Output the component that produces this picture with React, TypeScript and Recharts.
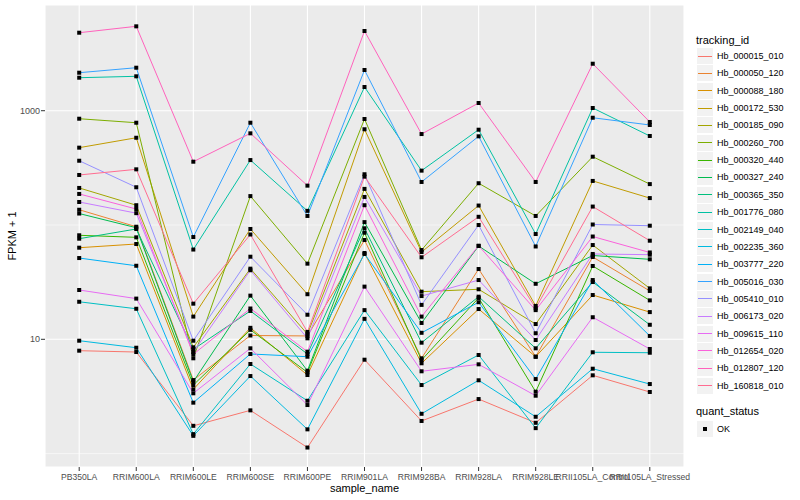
import React from "react";
import { ComposedChart, Line, XAxis, YAxis, CartesianGrid, ReferenceLine } from "recharts";

const samples = [
  "PB350LA",
  "RRIM600LA",
  "RRIM600LE",
  "RRIM600SE",
  "RRIM600PE",
  "RRIM901LA",
  "RRIM928BA",
  "RRIM928LA",
  "RRIM928LE",
  "RRII105LA_Control",
  "RRII105LA_Stressed",
];

// FPKM + 1, one value per sample
const hb_000015_010 = [7.95, 7.74, 1.75, 2.39, 1.13, 6.63, 1.93, 3.0, 1.86, 4.84, 3.46];
const hb_000050_120 = [136, 96.6, 4.4, 10.8, 10.7, 73.9, 6.82, 41.2, 7.04, 52.5, 26.5];
const hb_000088_180 = [63.3, 68.2, 3.65, 12.6, 4.87, 56.9, 6.17, 18.4, 7.04, 24.4, 17.3];
const hb_000172_530 = [475, 580, 15.8, 92.3, 24.8, 688, 58, 148, 19.6, 243, 172];
const hb_000185_090 = [211, 149, 8.51, 41.5, 11.1, 207, 26.1, 27.4, 13.6, 66.8, 27.9];
const hb_000260_700 = [851, 785, 6.82, 179, 45.9, 846, 60.4, 232, 120, 396, 228];
const hb_000320_440 = [81.3, 78, 3.98, 12.1, 5.14, 85.6, 6.59, 23, 3.48, 43.8, 21.9];
const hb_000327_240 = [126, 94.7, 4.26, 24.1, 5.31, 106, 13.9, 65.5, 30.6, 54.1, 50.1];
const hb_000365_350 = [75.9, 92.3, 8.17, 17.7, 7.44, 93.6, 9.34, 23.6, 8.34, 31.7, 13.4];
const hb_001776_080 = [1944, 2000, 61, 370, 133, 1612, 299, 682, 83.4, 1056, 601];
const hb_002149_040 = [21.3, 18.5, 1.48, 6.08, 2.9, 18, 3.98, 7.29, 1.67, 7.7, 7.63];
const hb_002235_360 = [9.72, 8.44, 1.43, 4.77, 1.63, 15.1, 2.23, 4.38, 2.1, 5.53, 4.06];
const hb_003777_220 = [51.4, 44, 2.79, 7.44, 7.04, 55.8, 11.4, 21.1, 4.49, 33, 10.7];
const hb_005016_030 = [2150, 2378, 78.5, 785, 120, 2271, 238, 597, 64.9, 868, 750];
const hb_005410_010 = [365, 214, 9.72, 52.8, 16.4, 278, 20, 100, 11.3, 101, 98.6];
const hb_006173_020 = [159, 127, 7.74, 40.2, 10.2, 176, 23.9, 33, 9.86, 55.8, 55];
const hb_009615_110 = [27, 22.7, 3.37, 8.34, 2.66, 28.9, 5.25, 6.04, 3.21, 15.6, 8.23];
const hb_012654_020 = [187, 138, 7.39, 18.6, 7.79, 149, 15.8, 65.9, 18, 79.3, 57.5];
const hb_012807_120 = [4813, 5474, 358, 634, 221, 4981, 625, 1168, 238, 2577, 797];
const hb_160818_010 = [274, 307, 20.5, 82.6, 11.6, 265, 52.2, 118, 18.7, 145, 72.9];

const trackingIds = [
  "Hb_000015_010",
  "Hb_000050_120",
  "Hb_000088_180",
  "Hb_000172_530",
  "Hb_000185_090",
  "Hb_000260_700",
  "Hb_000320_440",
  "Hb_000327_240",
  "Hb_000365_350",
  "Hb_001776_080",
  "Hb_002149_040",
  "Hb_002235_360",
  "Hb_003777_220",
  "Hb_005016_030",
  "Hb_005410_010",
  "Hb_006173_020",
  "Hb_009615_110",
  "Hb_012654_020",
  "Hb_012807_120",
  "Hb_160818_010",
];

const seriesValues = [
  hb_000015_010, hb_000050_120, hb_000088_180, hb_000172_530, hb_000185_090,
  hb_000260_700, hb_000320_440, hb_000327_240, hb_000365_350, hb_001776_080,
  hb_002149_040, hb_002235_360, hb_003777_220, hb_005016_030, hb_005410_010,
  hb_006173_020, hb_009615_110, hb_012654_020, hb_012807_120, hb_160818_010,
];

const palette = [
  "#F8766D", "#EA8331", "#D89000", "#C09B00", "#A3A500",
  "#7CAE00", "#39B600", "#00BB4E", "#00BF7D", "#00C1A3",
  "#00BFC4", "#00BAE0", "#00B0F6", "#35A2FF", "#9590FF",
  "#C77CFF", "#E76BF3", "#FA62DB", "#FF62BC", "#FF6C91",
];

const yTicks = [10, 1000];
const yMinor = [1, 100];

const rows = samples.map((s, i) => {
  const r: Record<string, string | number> = { sample: s };
  trackingIds.forEach((id, k) => {
    r[id] = seriesValues[k][i];
  });
  return r;
});

const SquareDot = (p: any) => {
  if (p.cx == null || p.cy == null) return null;
  return <rect key={p.key} x={p.cx - 2} y={p.cy - 2} width={4} height={4} fill="#000" />;
};

const yLabel = () => (
  <text x={16} y={236} transform="rotate(-90 16 236)" textAnchor="middle" fontSize={11} fill="#000">
    FPKM + 1
  </text>
);

export default function App() {
  const font = "'Liberation Sans', Arial, Helvetica, sans-serif";
  return (
    <div style={{ position: "absolute", left: 0, top: 0, width: 800, height: 500, background: "#fff", fontFamily: font }}>
      <ComposedChart width={800} height={500} data={rows} margin={{ top: 5, right: 116, bottom: 0, left: 0 }}>
        <CartesianGrid fill="#EBEBEB" stroke="#FFFFFF" strokeWidth={1.1} />
        {yMinor.map((v) => (
          <ReferenceLine key={`m${v}`} y={v} stroke="#FFFFFF" strokeWidth={0.55} />
        ))}
        <XAxis
          dataKey="sample"
          interval={0}
          padding={{ left: 34.2, right: 34.2 }}
          height={33}
          axisLine={false}
          tickLine={{ stroke: "#333333" }}
          tickSize={4}
          tickMargin={3}
          tick={{ fill: "#4D4D4D", fontSize: 8.6 }}
          label={{ value: "sample_name", position: "insideBottom", offset: 8, fontSize: 11, fill: "#000" }}
        />
        <YAxis
          type="number"
          scale="log"
          domain={[0.7634, 8412]}
          allowDataOverflow
          ticks={yTicks}
          interval={0}
          width={45}
          axisLine={false}
          tickLine={{ stroke: "#333333" }}
          tickSize={4}
          tickMargin={1}
          tick={{ fill: "#4D4D4D", fontSize: 9 }}
          label={yLabel}
        />
        {trackingIds.map((id, k) => (
          <Line
            key={`l-${id}`}
            dataKey={id}
            stroke={palette[k]}
            strokeWidth={1}
            dot={false}
            activeDot={false}
            isAnimationActive={false}
          />
        ))}
        {trackingIds.map((id) => (
          <Line
            key={`p-${id}`}
            dataKey={id}
            stroke="none"
            dot={SquareDot}
            activeDot={false}
            legendType="none"
            isAnimationActive={false}
          />
        ))}
      </ComposedChart>

      <div style={{ position: "absolute", left: 696, top: 34, fontSize: 11, lineHeight: "13px", color: "#000" }}>tracking_id</div>
      {trackingIds.map((id, k) => (
        <div key={id} style={{ position: "absolute", left: 697, top: 47.5 + k * 17.35, height: 17, display: "flex", alignItems: "center" }}>
          <div style={{ width: 16, height: 16, background: "#F2F2F2", position: "relative" }}>
            <div style={{ position: "absolute", left: 1, right: 1, top: 7.5, height: 1, background: palette[k] }} />
          </div>
          <span style={{ marginLeft: 4, fontSize: 9, color: "#000", whiteSpace: "nowrap" }}>{id}</span>
        </div>
      ))}
      <div style={{ position: "absolute", left: 696, top: 405, fontSize: 11, lineHeight: "13px", color: "#000" }}>quant_status</div>
      <div style={{ position: "absolute", left: 697, top: 420.5, height: 17, display: "flex", alignItems: "center" }}>
        <div style={{ width: 16, height: 16, background: "#F2F2F2", position: "relative" }}>
          <div style={{ position: "absolute", left: 6, top: 6, width: 4, height: 4, background: "#000" }} />
        </div>
        <span style={{ marginLeft: 4, fontSize: 9, color: "#000" }}>OK</span>
      </div>
    </div>
  );
}
